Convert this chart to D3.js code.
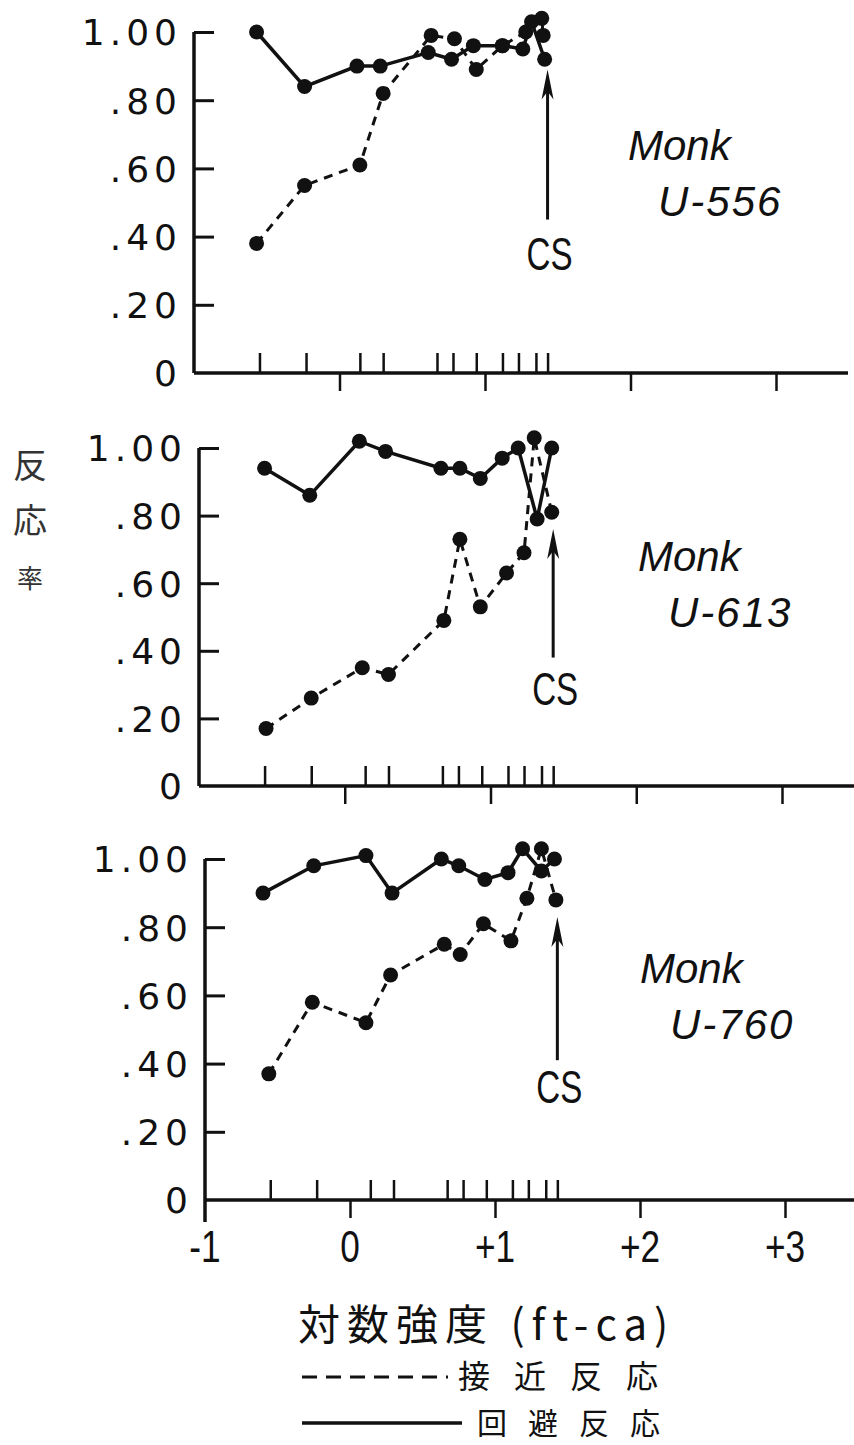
<!DOCTYPE html>
<html>
<head>
<meta charset="utf-8">
<script src="https://cdn.jsdelivr.net/npm/d3@7"></script>
<style>
  body { margin: 0; background: #fff; }
  svg { display: block; }
</style>
</head>
<body>
<svg width="854" height="1445"></svg>
<script>
//Width and height
var w = 854;
var h = 1445;

//Data: [log intensity, response rate]
var avoid556 = [[-0.57, 1.00], [-0.24, 0.84], [0.12, 0.90], [0.28, 0.90], [0.61, 0.94], [0.77, 0.92], [0.92, 0.96], [1.12, 0.96], [1.26, 0.95], [1.32, 1.03], [1.41, 0.92]];
var approach556 = [[-0.57, 0.38], [-0.24, 0.55], [0.14, 0.61], [0.30, 0.82], [0.63, 0.99], [0.79, 0.98], [0.94, 0.89], [1.12, 0.96], [1.28, 1.00], [1.39, 1.04], [1.40, 0.99]];

var avoid613 = [[-0.55, 0.94], [-0.24, 0.86], [0.10, 1.02], [0.28, 0.99], [0.66, 0.94], [0.79, 0.94], [0.93, 0.91], [1.08, 0.97], [1.19, 1.00], [1.32, 0.79], [1.42, 1.00]];
var approach613 = [[-0.54, 0.17], [-0.23, 0.26], [0.12, 0.35], [0.30, 0.33], [0.68, 0.49], [0.79, 0.73], [0.93, 0.53], [1.11, 0.63], [1.23, 0.69], [1.30, 1.03], [1.42, 0.81]];

var avoid760 = [[-0.60, 0.90], [-0.25, 0.98], [0.11, 1.01], [0.29, 0.90], [0.63, 1.00], [0.75, 0.98], [0.93, 0.94], [1.09, 0.96], [1.19, 1.03], [1.32, 0.965], [1.41, 1.00]];
var approach760 = [[-0.56, 0.37], [-0.26, 0.58], [0.11, 0.52], [0.28, 0.66], [0.65, 0.75], [0.76, 0.72], [0.92, 0.81], [1.11, 0.76], [1.22, 0.885], [1.32, 1.03], [1.42, 0.88]];

// stimulus intensities (small ticks above the axis)
var stimTicks = [-0.55, -0.23, 0.14, 0.30, 0.67, 0.78, 0.94, 1.12, 1.23, 1.35, 1.43];

var yValues = [1.0, 0.8, 0.6, 0.4, 0.2, 0];
var yLabels = ["1.00", ".80", ".60", ".40", ".20", "0"];
var xValues = [-1, 0, 1, 2, 3];
var xLabels = ["-1", "0", "+1", "+2", "+3"];

var subjects = ["U-556", "U-613", "U-760"];
var csValue = 1.43;

var svg = d3.select("svg");

// panel frames (pixel placement of each small chart)
var panels = [
    { name: subjects[0], avoid: avoid556, approach: approach556, left: 194, right: 776, top: 32, bottom: 373, end: 848, monk: [628, 160], csTop: 0.89, csBottom: 0.45, csLabel: 270 },
    { name: subjects[1], avoid: avoid613, approach: approach613, left: 199, right: 782, top: 448, bottom: 786, end: 854, monk: [638, 571], csTop: 0.76, csBottom: 0.38, csLabel: 705 },
    { name: subjects[2], avoid: avoid760, approach: approach760, left: 205, right: 785, top: 859, bottom: 1200, end: 854, monk: [640, 983], csTop: 0.83, csBottom: 0.41, csLabel: 1103 }
];

var ink = "#111";

panels.forEach(function (p, i) {
    var x = d3.scaleLinear().domain([-1, 3]).range([p.left, p.right]);
    var y = d3.scaleLinear().domain([0, 1]).range([p.bottom, p.top]);
    var g = svg.append("g");

    //y axis, ticks pointing inward
    var yAxis = d3.axisLeft(y)
        .tickValues(yValues)
        .tickFormat(function (d, k) { return yLabels[k]; })
        .tickSize(-20)
        .tickSizeOuter(0)
        .tickPadding(12);
    var ya = g.append("g")
        .attr("transform", "translate(" + p.left + ",0)")
        .call(yAxis);
    ya.select(".domain").remove();
    ya.selectAll("line").attr("stroke", ink).attr("stroke-width", 3);
    ya.selectAll("text")
        .attr("font-family", "DejaVu Sans")
        .attr("font-size", 36)
        .attr("letter-spacing", 5)
        .attr("dy", "0.36em")
        .attr("fill", ink);
    ya.selectAll(".tick").filter(function (d) { return d == 0; }).select("line").remove();

    g.append("line")
        .attr("x1", p.left).attr("x2", p.left)
        .attr("y1", y(1)).attr("y2", i == 2 ? p.bottom + 22 : p.bottom)
        .attr("stroke", ink).attr("stroke-width", 3.5);

    //x axis line
    g.append("line")
        .attr("x1", p.left).attr("x2", p.end)
        .attr("y1", p.bottom).attr("y2", p.bottom)
        .attr("stroke", ink).attr("stroke-width", 3.5);

    //stimulus ticks above the axis
    var st = g.append("g")
        .attr("transform", "translate(0," + p.bottom + ")")
        .call(d3.axisBottom(x).tickValues(stimTicks).tickSize(-20).tickSizeOuter(0).tickFormat(""));
    st.select(".domain").remove();
    st.selectAll("line").attr("stroke", ink).attr("stroke-width", 2.5);

    //major ticks below the axis
    var mj = g.append("g")
        .attr("transform", "translate(0," + p.bottom + ")")
        .call(d3.axisBottom(x)
            .tickValues(xValues.slice(1))
            .tickSize(18)
            .tickSizeOuter(0)
            .tickFormat(""));
    mj.select(".domain").remove();
    mj.selectAll("line").attr("stroke", ink).attr("stroke-width", 2.5);

    if (i == 2) {
        g.selectAll(".xlab")
            .data(xValues)
            .enter()
            .append("text")
            .attr("class", "xlab")
            .attr("transform", function (d) { return "translate(" + x(d) + "," + (p.bottom + 62) + ") scale(0.8,1)"; })
            .attr("text-anchor", "middle")
            .attr("font-family", "Liberation Sans")
            .attr("font-size", 44)
            .attr("fill", ink)
            .text(function (d, k) { return xLabels[k]; });
    }

    var line = d3.line()
        .x(function (d) { return x(d[0]); })
        .y(function (d) { return y(d[1]); });

    //approach (dashed)
    g.append("path")
        .datum(p.approach)
        .attr("d", line)
        .attr("fill", "none")
        .attr("stroke", ink)
        .attr("stroke-width", 3)
        .attr("stroke-dasharray", "9,7");

    //avoidance (solid)
    g.append("path")
        .datum(p.avoid)
        .attr("d", line)
        .attr("fill", "none")
        .attr("stroke", ink)
        .attr("stroke-width", 3.5);

    g.selectAll("circle.pt")
        .data(p.approach.concat(p.avoid))
        .enter()
        .append("circle")
        .attr("class", "pt")
        .attr("cx", function (d) { return x(d[0]); })
        .attr("cy", function (d) { return y(d[1]); })
        .attr("r", 7.5)
        .attr("fill", ink);

    //CS arrow
    var ax = x(csValue);
    g.append("line")
        .attr("x1", ax).attr("x2", ax)
        .attr("y1", y(p.csBottom)).attr("y2", y(p.csTop) + 10)
        .attr("stroke", ink).attr("stroke-width", 3);
    g.append("path")
        .attr("d", "M" + ax + "," + y(p.csTop) + " L" + (ax - 6) + "," + (y(p.csTop) + 30) + " L" + ax + "," + (y(p.csTop) + 22) + " L" + (ax + 6) + "," + (y(p.csTop) + 30) + " Z")
        .attr("fill", ink);
    g.append("text")
        .attr("transform", "translate(" + (ax + 2) + "," + p.csLabel + ") scale(0.72,1)")
        .attr("text-anchor", "middle")
        .attr("font-family", "Liberation Sans")
        .attr("font-size", 46)
        .attr("fill", ink)
        .text("CS");

    //subject label
    g.append("text")
        .attr("x", p.monk[0]).attr("y", p.monk[1])
        .attr("font-family", "Liberation Sans")
        .attr("font-style", "italic")
        .attr("font-size", 42)
        .attr("fill", ink)
        .text("Monk");
    g.append("text")
        .attr("x", p.monk[0] + 30).attr("y", p.monk[1] + 56)
        .attr("font-family", "Liberation Sans")
        .attr("font-style", "italic")
        .attr("font-size", 42)
        .attr("letter-spacing", 2)
        .attr("fill", ink)
        .text(p.name);
});

//y axis title, vertical
var ytitle = ["反", "応", "率"];
svg.selectAll(".ytitle")
    .data(ytitle)
    .enter()
    .append("text")
    .attr("class", "ytitle")
    .attr("x", 30)
    .attr("y", function (d, k) { return 478 + k * 55; })
    .attr("text-anchor", "middle")
    .attr("font-family", "Noto Sans CJK JP")
    .attr("font-size", function (d, k) { return k == 2 ? 26 : 34; })
    .attr("fill", "#333")
    .text(function (d) { return d; });

//x axis title
svg.append("text")
    .attr("x", 298)
    .attr("y", 1340)
    .attr("font-family", "Noto Sans CJK JP")
    .attr("font-size", 42)
    .attr("letter-spacing", 7)
    .attr("fill", ink)
    .text("対数強度 (ft-ca)");

//legend
svg.append("line")
    .attr("x1", 302).attr("x2", 448)
    .attr("y1", 1377).attr("y2", 1377)
    .attr("stroke", ink).attr("stroke-width", 3)
    .attr("stroke-dasharray", "15,9");
svg.append("text")
    .attr("x", 458).attr("y", 1388)
    .attr("font-family", "Noto Sans CJK JP")
    .attr("font-size", 32)
    .attr("letter-spacing", 24)
    .attr("fill", ink)
    .text("接近反応");
svg.append("line")
    .attr("x1", 302).attr("x2", 462)
    .attr("y1", 1423).attr("y2", 1423)
    .attr("stroke", ink).attr("stroke-width", 3.5);
svg.append("text")
    .attr("x", 477).attr("y", 1434)
    .attr("font-family", "Noto Sans CJK JP")
    .attr("font-size", 30)
    .attr("letter-spacing", 21)
    .attr("fill", ink)
    .text("回避反応");
</script>
</body>
</html>
